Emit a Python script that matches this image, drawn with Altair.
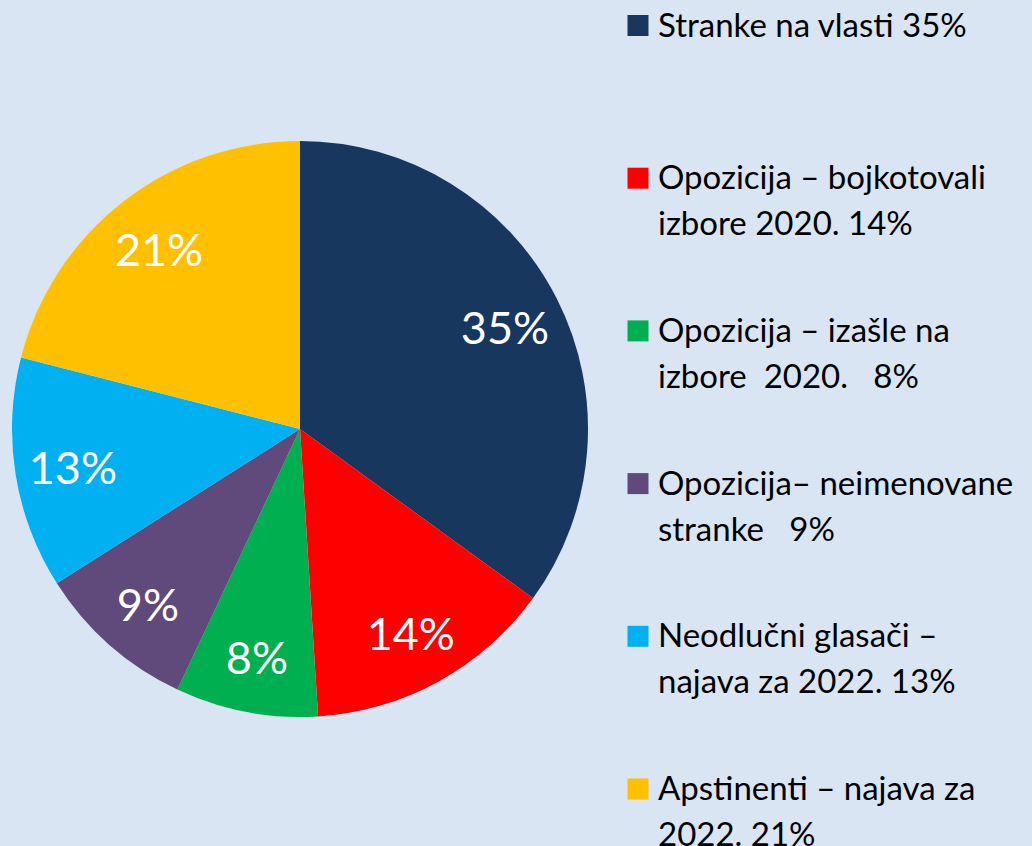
import altair as alt
import pandas as pd

NB = "\u00a0"
categories = [
    "Stranke na vlasti 35%",
    "Opozicija – bojkotovali\nizbore 2020. 14%",
    "Opozicija – izašle na\nizbore" + NB + " 2020." + NB + NB + " 8%",
    "Opozicija– neimenovane\nstranke" + NB + NB + " 9%",
    "Neodlučni glasači –\nnajava za 2022. 13%",
    "Apstinenti – najava za\n2022. 21%",
]
values = [35, 14, 8, 9, 13, 21]
labels = ["35%", "14%", "8%", "9%", "13%", "21%"]
colors = ["#17375E", "#FF0000", "#00B050", "#604A7B", "#00B0F0", "#FFC000"]

df = pd.DataFrame({
    "cat": categories,
    "value": values,
    "label": labels,
    "row": list(range(len(categories))),
})

color = alt.Color("cat:N", scale=alt.Scale(domain=categories, range=colors), legend=None)
theta = alt.Theta("value:Q", stack=True)
order = alt.Order("row:Q", sort="ascending")

base = alt.Chart(df)

pie = base.mark_arc(radius=288).encode(
    theta=theta, color=color, order=order,
    x=alt.value(300), y=alt.value(429),
)

pie_labels = base.mark_text(
    radius=230, font="Lato", fontSize=45, color="white",
    align="center", baseline="middle", dy=5,
).encode(
    theta=theta, order=order, text="label:N",
    x=alt.value(300), y=alt.value(429),
)

yscale = alt.Y("row:Q", scale=alt.Scale(domain=[0, 5], range=[25.5, 789]), axis=None)

squares = base.mark_square(size=441, opacity=1).encode(
    x=alt.value(638), y=yscale, color=color,
)

legend_text = base.mark_text(
    align="left", baseline="alphabetic", font="Lato", fontSize=33,
    lineBreak="\n", lineHeight=46, dy=11, color="#000000",
).encode(
    x=alt.value(658), y=yscale, text="cat:N",
)

chart = alt.layer(pie, pie_labels, squares, legend_text).properties(
    width=1032, height=846, padding=0,
    autosize=alt.AutoSizeParams(type="none"),
    background="#DAE5F4",
).configure_view(stroke=None)

chart.save("out.html", embed_options={"renderer": "svg", "actions": False})
